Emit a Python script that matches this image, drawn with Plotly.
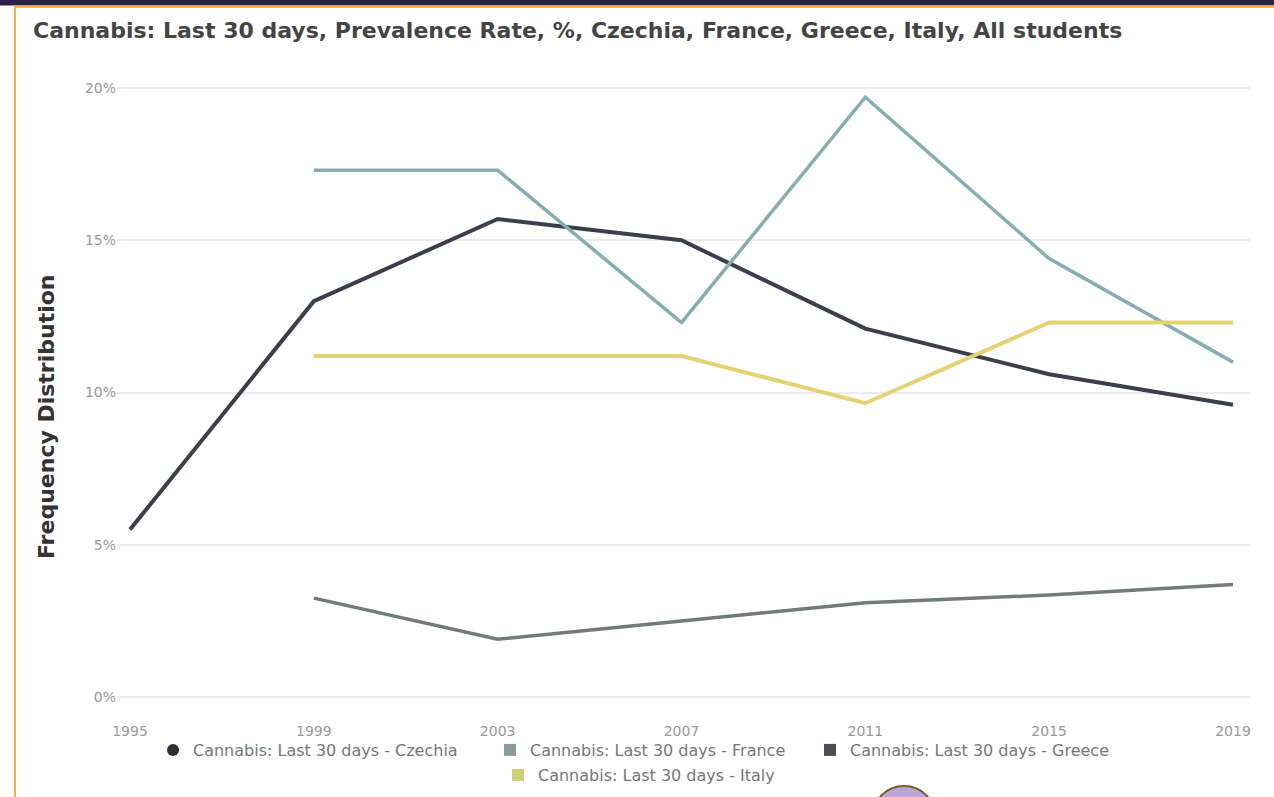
import plotly.graph_objects as go

years = [1995, 1999, 2003, 2007, 2011, 2015, 2019]
czechia = [5.5, 13.0, 15.7, 15.0, 12.1, 10.6, 9.6]
france = [None, 17.3, 17.3, 12.3, 19.7, 14.4, 11.0]
greece = [None, 3.25, 1.9, 2.5, 3.1, 3.35, 3.7]
italy = [None, 11.2, 11.2, 11.2, 9.65, 12.3, 12.3]

y_ticks = [0, 5, 10, 15, 20]
y_tick_labels = ["0%", "5%", "10%", "15%", "20%"]

names = [
    "Cannabis: Last 30 days - Czechia",
    "Cannabis: Last 30 days - France",
    "Cannabis: Last 30 days - Greece",
    "Cannabis: Last 30 days - Italy",
]
series = [czechia, france, greece, italy]
line_colors = ["#3a3f4b", "#86aeb0", "#737a7a", "#e4d274"]
line_widths = [4, 3.5, 3.5, 4]
legend_colors = ["#2e2f33", "#8f9a9a", "#4d5053", "#cdd27a"]
legend_symbols = ["circle", "square", "square", "square"]
legend_ids = ["legend", "legend2", "legend3", "legend4"]
# legend marker centres in pixels (x, y)
legend_pos = [(172, 750), (509, 750), (829, 750), (517, 775)]

fig = go.Figure()
for s, c, w in zip(series, line_colors, line_widths):
    fig.add_trace(go.Scatter(x=years, y=s, mode="lines", line=dict(color=c, width=w),
                             showlegend=False, connectgaps=False))
for n, c, sym, lg in zip(names, legend_colors, legend_symbols, legend_ids):
    fig.add_trace(go.Scatter(x=[None], y=[None], mode="markers", name=n,
                             marker=dict(color=c, symbol=sym, size=12), legend=lg))

W, H = 1274, 797
L, R, T, B = 117, 1250, 78, 705
def px(x):
    return (x - L) / (R - L)
def py(y):
    return (B - y) / (B - T)

shapes = [
    dict(type="rect", xref="paper", yref="paper", x0=px(0), x1=px(W), y0=py(5.5), y1=py(-2),
         fillcolor="#2b2149", line=dict(width=0), layer="above"),
    dict(type="line", xref="paper", yref="paper", x0=px(14), x1=px(W), y0=py(6.5), y1=py(6.5),
         line=dict(color="#f2a93b", width=2.5), layer="above"),
    dict(type="line", xref="paper", yref="paper", x0=px(15), x1=px(15), y0=py(6), y1=py(800),
         line=dict(color="#f2b347", width=2), layer="above"),
    dict(type="circle", xref="paper", yref="paper", x0=px(872), x1=px(936), y0=py(786), y1=py(850),
         line=dict(color="#7a5a1e", width=2), fillcolor="#b9a6d6", layer="above"),
]

legend_font = dict(family="DejaVu Sans", size=16, color="#777777")
legends = {}
for lg, (lx, ly) in zip(legend_ids, legend_pos):
    legends[lg] = dict(orientation="h", xref="container", yref="container",
                       x=(lx - 19) / W, xanchor="left", y=1 - ly / H, yanchor="middle",
                       font=legend_font, bgcolor="rgba(0,0,0,0)", borderwidth=0)

fig.update_layout(
    width=W, height=H,
    margin=dict(l=L, r=W - R, t=T, b=H - B, autoexpand=False),
    paper_bgcolor="white", plot_bgcolor="white",
    title=dict(text="Cannabis: Last 30 days, Prevalence Rate, %, Czechia, France, Greece, Italy, All students",
               xref="container", yref="container",
               x=33 / W, xanchor="left", y=1 - 30 / H, yanchor="middle",
               font=dict(family="DejaVu Sans", size=22, color="#444444", weight="bold")),
    xaxis=dict(range=[1994.717, 2019.37], tickvals=years, ticktext=[str(y) for y in years],
               showgrid=False, zeroline=False, showline=False, automargin=False,
               tickfont=dict(family="DejaVu Sans", size=14, color="#999999"),
               ticks="", ticklabelstandoff=16),
    yaxis=dict(range=[-0.26, 20.33], tickvals=y_ticks, ticktext=y_tick_labels, automargin=False,
               showgrid=True, gridcolor="#ececec", gridwidth=1.5, zeroline=False, showline=False,
               tickfont=dict(family="DejaVu Sans", size=14, color="#999999"), ticks=""),
    annotations=[dict(text="<b>Frequency Distribution</b>", xref="paper", yref="paper",
                      x=px(46), y=py(417), xanchor="center", yanchor="middle", textangle=-90,
                      showarrow=False,
                      font=dict(family="DejaVu Sans", size=22, color="#333333"))],
    shapes=shapes,
    **legends,
)

fig.write_html("out.html", config={"displayModeBar": False},
               post_script="document.body.style.margin='0';")
